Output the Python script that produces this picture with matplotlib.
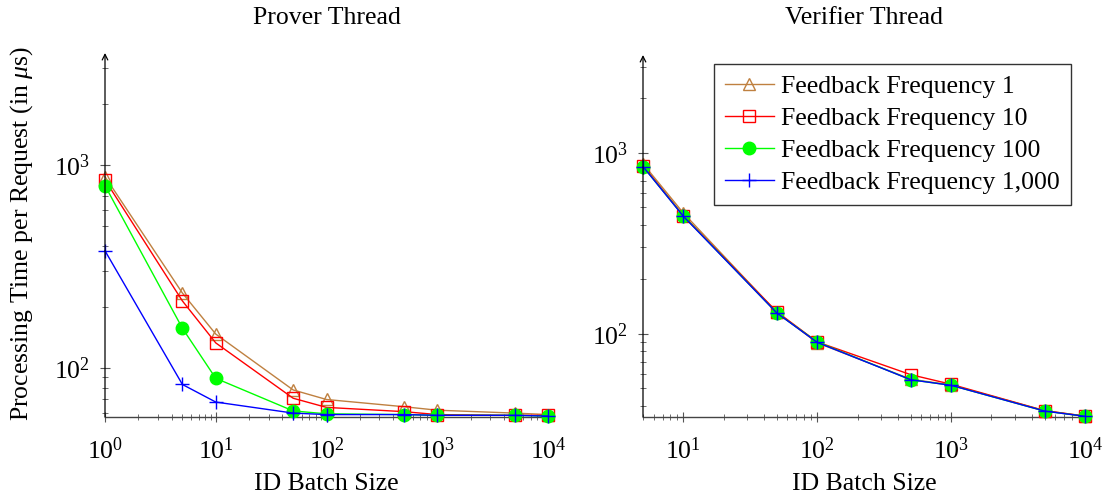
import matplotlib
matplotlib.use('Agg')
import matplotlib.pyplot as plt
from matplotlib.ticker import LogLocator, NullFormatter

plt.rcParams['font.family'] = ['Liberation Serif', 'DejaVu Serif']
plt.rcParams['mathtext.fontset'] = 'custom'
plt.rcParams['mathtext.rm'] = 'Liberation Serif'
plt.rcParams['mathtext.it'] = 'Liberation Serif:italic'

# batch sizes
prover_x = [1, 5, 10, 50, 100, 500, 1000, 5000, 10000]
verifier_x = [5, 10, 50, 100, 500, 1000, 5000, 10000]

# processing time per request (us)
prover_f1 = [876, 234, 147, 78, 70, 64.5, 62, 60, 59]
prover_f10 = [844, 214, 133, 71, 64, 61, 59, 58.5, 58.5]
prover_f100 = [791, 157, 89, 61.5, 59.5, 59, 58.5, 58.5, 58]
prover_f1000 = [378, 83, 68, 60, 59, 59, 58.5, 58.5, 58]

verifier_f1 = [870, 465, 131, 89, 56, 52, 37.5, 35]
verifier_f10 = [850, 450, 132, 90, 59.3, 52.5, 37.5, 35]
verifier_f100 = [840, 448, 130, 90, 55.6, 51.8, 37.3, 34.9]
verifier_f1000 = [840, 446, 130, 89.5, 55.6, 51.8, 37.3, 34.9]

labels = ['Feedback Frequency 1', 'Feedback Frequency 10',
          'Feedback Frequency 100', 'Feedback Frequency 1,000']

styles = [
    dict(color='#bf8040', marker='^', mfc='none', mec='#bf8040', ms=8),
    dict(color='#ff0000', marker='s', mfc='none', mec='#ff0000', ms=8),
    dict(color='#00ff00', marker='o', mfc='#00ff00', mec='#00ff00', ms=9),
    dict(color='#0000ff', marker='+', mfc='#0000ff', mec='#0000ff', ms=10, mew=1.0),
]

FS = 18.5
W, H = 1105, 501
fig = plt.figure(figsize=(W / 100, H / 100), dpi=100)


def make_axes(rect, xs, series, xlim, ylim, title):
    l, t, r, b = rect
    ax = fig.add_axes([l / W, 1 - b / H, (r - l) / W, (b - t) / H])
    for ys, lab, st in zip(series, labels, styles):
        ax.plot(xs, ys, lw=1.0, label=lab, clip_on=False, zorder=3, **st)
    ax.set_xscale('log')
    ax.set_yscale('log')
    ax.set_xlim(*xlim)
    ax.set_ylim(*ylim)
    for s in ['top', 'right']:
        ax.spines[s].set_visible(False)
    ax.spines['left'].set_visible(False)
    ax.spines['bottom'].set_color('#444444')
    ax.spines['bottom'].set_linewidth(1.0)
    # y axis with arrow head
    ax.annotate('', xy=(0, 1.0), xytext=(0, 0), xycoords='axes fraction',
                arrowprops=dict(arrowstyle='->', color='black', lw=0.9,
                                shrinkA=0, shrinkB=0, mutation_scale=10))
    ax.xaxis.set_major_locator(LogLocator(base=10, numticks=10))
    ax.xaxis.set_minor_locator(LogLocator(base=10, subs=range(2, 10), numticks=20))
    ax.yaxis.set_major_locator(LogLocator(base=10, numticks=10))
    ax.yaxis.set_minor_locator(LogLocator(base=10, subs=range(2, 10), numticks=20))
    ax.xaxis.set_minor_formatter(NullFormatter())
    ax.yaxis.set_minor_formatter(NullFormatter())
    ax.tick_params(which='major', direction='inout', length=7, width=0.8,
                   color='#555555', labelsize=FS)
    ax.tick_params(axis='x', which='major', pad=11)
    ax.tick_params(axis='y', which='major', pad=7)
    ax.tick_params(which='minor', direction='inout', length=5, width=0.6,
                   color='#555555')
    ax.set_facecolor('none')
    fig.text(((l + r) / 2) / W, 1 - 18 / H, title, ha='center', va='center', fontsize=FS)
    fig.text(((l + r) / 2) / W, 1 - 484 / H, 'ID Batch Size', ha='center', va='center', fontsize=FS)
    return ax


ax1 = make_axes((105, 53, 548, 417), prover_x,
                [prover_f1, prover_f10, prover_f100, prover_f1000],
                (1, 10000), (57.4, 3560), 'Prover Thread')
ax2 = make_axes((643, 55, 1085, 417), verifier_x,
                [verifier_f1, verifier_f10, verifier_f100, verifier_f1000],
                (5, 10000), (34.6, 3475), 'Verifier Thread')

fig.text(22 / W, 1 - 234 / H, r'Processing Time per Request (in $\mu$s)',
         rotation=90, ha='center', va='center', fontsize=FS)

leg = ax2.legend(loc='upper right', bbox_to_anchor=(1071 / W, 1 - 64 / H),
                 bbox_transform=fig.transFigure, fontsize=FS, frameon=True,
                 fancybox=False, edgecolor='black', handlelength=1.9,
                 handletextpad=0.3, borderpad=0.42, labelspacing=0.36,
                 borderaxespad=0)
leg.get_frame().set_linewidth(1.0)

fig.savefig('out.png', dpi=100)
